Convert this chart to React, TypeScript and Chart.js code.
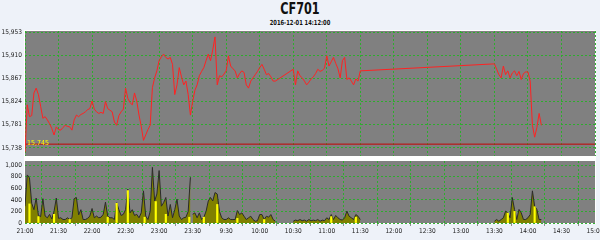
import React, { useEffect, useRef } from "react";
import { Chart, registerables } from "chart.js";

Chart.register(...registerables);

// ---- text ----
const titleText = "CF701";
const subtitleText = "2016-12-01 14:12:00";

// ---- axis ticks (compressed trading-time axis, minutes since 21:00 with gaps removed) ----
const xTickLabels = [
  "21:00", "21:30", "22:00", "22:30", "23:00", "23:30", "9:30", "10:00", "10:30",
  "11:00", "11:30", "12:00", "12:30", "13:00", "13:30", "14:00", "14:30", "15:00",
];
const xTickMinutes = [0, 30, 60, 90, 120, 150, 180, 210, 240, 270, 300, 330, 360, 390, 420, 450, 480, 510];
const priceTicks = [15738, 15781, 15824, 15867, 15910, 15953];
const volTicks = [0, 200, 400, 600, 800, 1000];
const refPrice = 15745;

// session start (axis minute) and sample step in minutes
const nightStart = 0;
const am1Start = 150;
const am2Start = 240;
const pmStart = 420;
const stepMinutes = 2;

// ---- price series ----
const nightPrice = [
  15730, 15818, 15796, 15798, 15840, 15849, 15837, 15815, 15793, 15796,
  15790, 15783, 15774, 15762, 15777, 15772, 15771, 15776, 15780, 15778,
  15777, 15771, 15790, 15799, 15796, 15800, 15802, 15805, 15809, 15811,
  15825, 15810, 15805, 15802, 15804, 15802, 15824, 15811, 15808, 15805,
  15786, 15780, 15798, 15805, 15810, 15849, 15830, 15822, 15818, 15840,
  15825, 15799, 15778, 15752, 15762, 15772, 15780, 15850, 15868, 15881,
  15900, 15907, 15912, 15906, 15903, 15906, 15893, 15837, 15855, 15887,
  15870, 15855, 15862, 15837, 15799,
];
const am1Price = [
  15824, 15845, 15855, 15872, 15880, 15887, 15900, 15912, 15900, 15920,
  15944, 15855, 15872, 15870, 15875, 15881, 15909, 15890, 15885, 15881,
  15868, 15876, 15881, 15878, 15855, 15849, 15862, 15868, 15874, 15880,
  15887, 15893, 15884, 15874, 15876, 15870, 15862, 15862,
];
const am2Price = [
  15884, 15855, 15881, 15872, 15868, 15862, 15855, 15860, 15866, 15870,
  15876, 15884, 15880, 15882, 15886, 15909, 15890, 15898, 15906, 15895,
  15885, 15868, 15900, 15906, 15865, 15868, 15862, 15855, 15866, 15862,
  15881,
];
const pmPrice = [
  15894, 15884, 15874, 15868, 15890, 15874, 15881, 15868, 15877, 15881,
  15872, 15880, 15865, 15876, 15879, 15879, 15862, 15780, 15758, 15776,
  15802, 15780,
];

// ---- volume series ----
const nightVol = [
  290, 830, 780, 340, 230, 430, 130, 110, 420, 120,
  90, 150, 70, 200, 430, 80, 90, 60, 60, 90,
  60, 90, 420, 440, 140, 230, 60, 60, 80, 120,
  250, 90, 120, 90, 100, 150, 360, 120, 90, 90,
  60, 350, 230, 130, 150, 230, 585, 175, 230, 130,
  150, 90, 175, 555, 120, 60, 200, 960, 380, 500,
  905, 290, 350, 440, 120, 320, 90, 230, 410, 120,
  60, 90, 100, 200, 790,
];
const am1Vol = [
  150, 175, 90, 175, 60, 100, 200, 380, 440, 380,
  526, 500, 200, 90, 60, 60, 90, 60, 60, 60,
  215, 146, 175, 117, 60, 90, 117, 60, 30, 40,
  146, 146, 60, 117, 100, 146, 60, 30,
];
const am2Vol = [
  30, 50, 40, 60, 40, 50, 30, 60, 40, 50,
  40, 60, 30, 50, 40, 90, 60, 146, 60, 130,
  90, 60, 50, 90, 205, 117, 90, 60, 146, 117,
  60,
];
const pmVol = [
  30, 60, 30, 60, 90, 205, 175, 90, 440, 234,
  60, 234, 175, 60, 60, 90, 146, 555, 290, 234,
  60, 60,
];

// yellow highlight ticks inside the volume area
const yellowMinutes = [4, 12, 26, 40, 74, 82, 92, 107, 117, 126, 147, 160, 172, 190, 214, 274, 296, 432, 438, 456];
const yellowVols = [330, 110, 150, 60, 100, 340, 560, 100, 370, 150, 100, 100, 320, 80, 60, 110, 100, 170, 200, 280];

const FONT = '"Liberation Sans Narrow", "DejaVu Sans Condensed", "Liberation Sans", sans-serif';
const GRID = "rgba(40,175,40,0.95)";
const PAGE_BG = "#eef2f9";

const pts = (start: number, values: number[]) =>
  values.map((v, i) => ({ x: start + i * stepMinutes, y: v }));

const fmt = (n: number) => n.toLocaleString("en-US");

const panelPlugin = {
  id: "panelBg",
  beforeDraw(chart: any) {
    const { ctx, chartArea: a } = chart;
    const o = chart.options.plugins.panelBg || {};
    const b = o.bottomFrame ?? 2;
    const t = o.topFrame ?? 1;
    ctx.save();
    ctx.fillStyle = "#ffffff";
    ctx.fillRect(a.left - 1, a.top - t, a.right - a.left + 2, a.bottom - a.top + t + b);
    ctx.fillStyle = "#808080";
    ctx.fillRect(a.left, a.top, a.right - a.left, a.bottom - a.top);
    ctx.restore();
  },
};

const refLabelPlugin = {
  id: "refLabel",
  afterDatasetsDraw(chart: any) {
    const y = chart.scales.y.getPixelForValue(refPrice);
    const ctx = chart.ctx;
    ctx.save();
    ctx.fillStyle = "#ffff00";
    ctx.font = `7px ${FONT}`;
    ctx.textBaseline = "middle";
    ctx.textAlign = "left";
    ctx.fillText(fmt(refPrice), chart.chartArea.left + 2, y - 1);
    ctx.restore();
  },
};

function fitY(s: any) {
  s.width = 25;
  s.paddingTop = 0;
  s.paddingBottom = 0;
}

export default function App() {
  const topRef = useRef<HTMLCanvasElement>(null);
  const botRef = useRef<HTMLCanvasElement>(null);

  useEffect(() => {
    const tickFont = { family: FONT, size: 6.5 };
    const priceData = [
      ...pts(nightStart, nightPrice),
      ...pts(am1Start, am1Price),
      ...pts(am2Start, am2Price),
      ...pts(pmStart, pmPrice),
    ];

    const top = new Chart(topRef.current!, {
      type: "line",
      data: {
        datasets: [
          {
            data: priceData,
            borderColor: "#ff2222",
            borderWidth: 1,
            pointRadius: 0,
            tension: 0,
            order: 0,
          } as any,
          {
            data: [
              { x: xTickMinutes[0], y: refPrice },
              { x: xTickMinutes[xTickMinutes.length - 1], y: refPrice },
            ],
            borderColor: "#c40000",
            borderWidth: 1,
            pointRadius: 0,
            order: 1,
          } as any,
        ],
      },
      options: {
        animation: false,
        responsive: false,
        devicePixelRatio: 1,
        layout: { padding: { left: 0, right: 5, top: 31, bottom: 84 } },
        plugins: {
          legend: { display: false },
          tooltip: { enabled: false },
          panelBg: { topFrame: 1, bottomFrame: 2 },
        } as any,
        scales: {
          x: {
            type: "linear",
            min: xTickMinutes[0],
            max: xTickMinutes[xTickMinutes.length - 1],
            offset: false,
            afterBuildTicks: (s: any) => {
              s.ticks = xTickMinutes.map((v) => ({ value: v }));
            },
            afterFit: (s: any) => {
              s.height = 0;
              s.paddingLeft = 0;
              s.paddingRight = 0;
            },
            ticks: { display: false },
            grid: { color: GRID, lineWidth: 1, drawTicks: false },
            border: { display: false, dash: [2, 2] },
          },
          y: {
            type: "linear",
            min: 15723,
            max: 15955,
            afterBuildTicks: (s: any) => {
              s.ticks = priceTicks.map((v) => ({ value: v }));
            },
            afterFit: fitY,
            ticks: {
              font: tickFont,
              color: "#1a1a1a",
              padding: 3,
              callback: (v: any) => fmt(Number(v)),
            },
            grid: { color: GRID, lineWidth: 1, drawTicks: false },
            border: { display: false, dash: [2, 2] },
          },
        },
      },
      plugins: [panelPlugin, refLabelPlugin],
    });

    const areaStyle = {
      borderColor: "#2b2b2b",
      borderWidth: 1,
      backgroundColor: "#808000",
      fill: "origin",
      pointRadius: 0,
      tension: 0,
      order: 1,
    };

    const bot = new Chart(botRef.current!, {
      type: "line",
      data: {
        datasets: [
          { ...areaStyle, data: pts(nightStart, nightVol) } as any,
          { ...areaStyle, data: pts(am1Start, am1Vol) } as any,
          { ...areaStyle, data: pts(am2Start, am2Vol) } as any,
          { ...areaStyle, data: pts(pmStart, pmVol) } as any,
          {
            type: "bar",
            data: yellowMinutes.map((m, i) => ({ x: m, y: yellowVols[i] })),
            backgroundColor: "#ffff00",
            borderWidth: 0,
            barThickness: 1.5,
            order: 0,
          } as any,
        ],
      },
      options: {
        animation: false,
        responsive: false,
        devicePixelRatio: 1,
        layout: { padding: { left: 0, right: 5, top: 161, bottom: 0 } },
        plugins: {
          legend: { display: false },
          tooltip: { enabled: false },
          panelBg: { topFrame: 3, bottomFrame: 1 },
        } as any,
        scales: {
          x: {
            type: "linear",
            min: xTickMinutes[0],
            max: xTickMinutes[xTickMinutes.length - 1],
            offset: false,
            afterBuildTicks: (s: any) => {
              s.ticks = xTickMinutes.map((v) => ({ value: v }));
            },
            afterFit: (s: any) => {
              s.height = 17;
              s.paddingLeft = 0;
              s.paddingRight = 0;
            },
            ticks: {
              font: tickFont,
              color: "#1a1a1a",
              padding: 1,
              autoSkip: false,
              maxRotation: 0,
              callback: (_v: any, i: number) => xTickLabels[i],
            },
            grid: {
              color: GRID,
              lineWidth: 1,
              drawTicks: true,
              tickLength: 3,
              tickColor: "#909090",
              tickBorderDash: [],
            },
            border: { display: false, dash: [2, 2] },
          },
          y: {
            type: "linear",
            min: 0,
            max: 1070,
            afterBuildTicks: (s: any) => {
              s.ticks = volTicks.map((v) => ({ value: v }));
            },
            afterFit: fitY,
            ticks: {
              font: tickFont,
              color: "#1a1a1a",
              padding: 3,
              callback: (v: any) => fmt(Number(v)),
            },
            grid: { color: GRID, lineWidth: 1, drawTicks: false },
            border: { display: false, dash: [2, 2] },
          },
        },
      },
      plugins: [panelPlugin],
    });

    return () => {
      top.destroy();
      bot.destroy();
    };
  }, []);

  return (
    <div
      style={{
        position: "fixed",
        left: 0,
        top: 0,
        width: 600,
        height: 240,
        background: PAGE_BG,
        overflow: "hidden",
      }}
    >
      <div
        style={{
          position: "absolute",
          left: 0,
          top: 1,
          width: 600,
          textAlign: "center",
          font: `bold 16px/16px ${FONT}`,
          color: "#111",
          transform: "scaleX(0.78)",
          transformOrigin: "300px 0",
        }}
      >
        {titleText}
      </div>
      <div
        style={{
          position: "absolute",
          left: 0,
          top: 20,
          width: 600,
          textAlign: "center",
          font: `bold 7px/7px ${FONT}`,
          color: "#111",
          transform: "scaleX(0.82)",
          transformOrigin: "300px 0",
        }}
      >
        {subtitleText}
      </div>
      <canvas ref={botRef} width={600} height={240} style={{ position: "absolute", left: 0, top: 0 }} />
      <canvas ref={topRef} width={600} height={240} style={{ position: "absolute", left: 0, top: 0 }} />
    </div>
  );
}
